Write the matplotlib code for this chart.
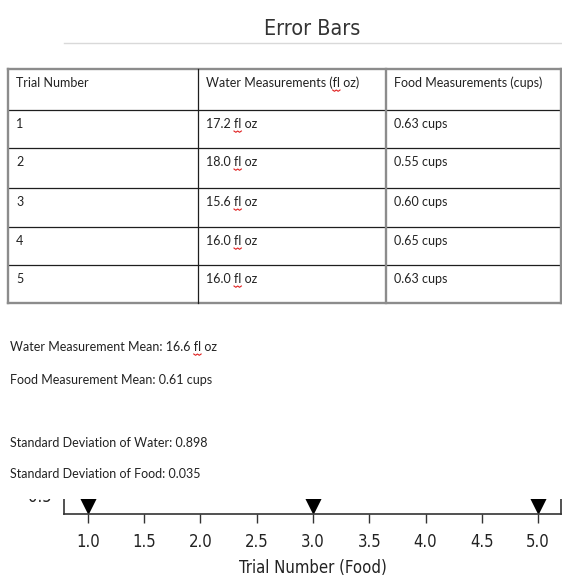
import numpy as np
import matplotlib.pyplot as plt
from matplotlib import font_manager as fm
from matplotlib.patches import Rectangle

trials = [1, 2, 3, 4, 5]
water = [17.2, 18.0, 15.6, 16.0, 16.0]
food = [0.63, 0.55, 0.60, 0.65, 0.63]
headers = ['Trial Number', 'Water Measurements (fl oz)', 'Food Measurements (cups)']

# only the bottom strip of the food error bar chart shows under the page
marker_trials = [1, 3, 5]
marker_level = [0.465, 0.465, 0.465]
x_ticks = [1.0, 1.5, 2.0, 2.5, 3.0, 3.5, 4.0, 4.5, 5.0]
y_ticks = [0.5]

doc_font = 'Lato'
ink = '#222222'
W, H = 562, 581

# the chart text is very narrow; use whatever condensed face exists
installed = [(f.name, f.stretch) for f in fm.fontManager.ttflist]
if any(n == 'Liberation Sans Narrow' for n, _ in installed):
    narrow = dict(family='Liberation Sans Narrow')
elif any(n == 'DejaVu Sans' and st == 'condensed' for n, st in installed):
    narrow = dict(family='DejaVu Sans', fontstretch='condensed')
else:
    cands = [n for n, st in installed if 'Condensed' in n or 'Narrow' in n or st == 'condensed']
    narrow = dict(family=cands[0]) if cands else dict(family='DejaVu Sans')

fig = plt.figure(figsize=(W / 100, H / 100), dpi=100)

# chart goes in first, the page axes sits on top of it
ax = fig.add_axes([64 / W, (H - 514) / H, (561 - 64) / W, 56 / H], zorder=1)
ax.plot(marker_trials, marker_level, 'v', color='black', markersize=11)
ax.set_xlim(0.787, 5.204)
ax.set_ylim(0.433, 0.633)
ax.set_xticks(x_ticks)
ax.set_xticklabels([f'{t:.1f}' for t in x_ticks], fontsize=12, color=ink, **narrow)
ax.set_yticks(y_ticks)
ax.set_yticklabels([f'{t:.1f}' for t in y_ticks], fontsize=12, color=ink, **narrow)
ax.set_xlabel('Trial Number (Food)', fontsize=12, color=ink, labelpad=6, **narrow)
ax.tick_params(axis='x', length=6.5, width=1, color='#333333', pad=7)
ax.tick_params(axis='y', length=6.5, width=1, color='#333333', pad=2)
for s in ax.spines.values():
    s.set_color('#333333')
    s.set_linewidth(1.2)

# the document page (pixel coordinates, y down)
page = fig.add_axes([0, (H - 499) / H, 1, 499 / H], zorder=2)
page.set_xlim(0, W)
page.set_ylim(499, 0)
page.axis('off')
page.add_patch(Rectangle((0, 0), 1, 1, transform=page.transAxes, color='white', zorder=0))

page.text(312, 35, 'Error Bars', ha='center', va='baseline', fontsize=15.5, color='#333333', **narrow)
page.plot([64, W], [43, 43], color='#d9d9d9', lw=1)

col_x = [8, 198, 386, 561]
row_y = [69, 110, 148, 188, 227, 265, 303]
gray = '#8c8c8c'
for y in row_y[1:-1]:
    page.plot([col_x[0], col_x[-1]], [y, y], color='#1e1e1e', lw=0.9)
for y in (row_y[0], row_y[-1]):
    page.plot([col_x[0], col_x[-1]], [y, y], color=gray, lw=1.7)
page.plot([col_x[1], col_x[1]], [row_y[0], row_y[-1]], color='#1e1e1e', lw=0.9)
for x in (col_x[0], col_x[2], col_x[3]):
    page.plot([x, x], [row_y[0], row_y[-1]], color=gray, lw=1.7)

cells = [headers] + [[str(t), f'{w:.1f} fl oz', f'{f:.2f} cups'] for t, w, f in zip(trials, water, food)]

texts = []
for i, row in enumerate(cells):
    for j, s in enumerate(row):
        t = page.text(col_x[j] + 8, row_y[i] + 14, s, va='center', family=doc_font, fontsize=9, color=ink)
        texts.append(t)

water_mean = np.mean(water)
food_mean = np.mean(food)
water_sd = np.std(water)
food_sd = np.std(food)
lines = [
    (347, f'Water Measurement Mean: {water_mean:.1f} fl oz'),
    (380, f'Food Measurement Mean: {food_mean:.2f} cups'),
    (443, f'Standard Deviation of Water: {water_sd:.3f}'),
    (474, f'Standard Deviation of Food: {food_sd:.3f}'),
]
for y, s in lines:
    texts.append(page.text(10, y, s, va='center', family=doc_font, fontsize=9, color=ink))

# red spell-check squiggles under every "fl"
renderer = fig.canvas.get_renderer()
for t in texts:
    s = t.get_text()
    k = s.find('fl ')
    if k < 0:
        continue
    x0, y0 = t.get_position()
    tmp = page.text(x0, y0, s[:k], va='center', family=doc_font, fontsize=9)
    start = tmp.get_window_extent(renderer).width if k > 0 else 0
    tmp.remove()
    tmp = page.text(x0, y0, 'fl', va='center', family=doc_font, fontsize=9)
    wid = tmp.get_window_extent(renderer).width
    tmp.remove()
    xs = np.linspace(x0 + start, x0 + start + wid, 5)
    ys = y0 + 7 + np.array([0, 1.3, 0, 1.3, 0])
    page.plot(xs, ys, color='#e02020', lw=0.8)

fig.savefig('out.png', dpi=100)
